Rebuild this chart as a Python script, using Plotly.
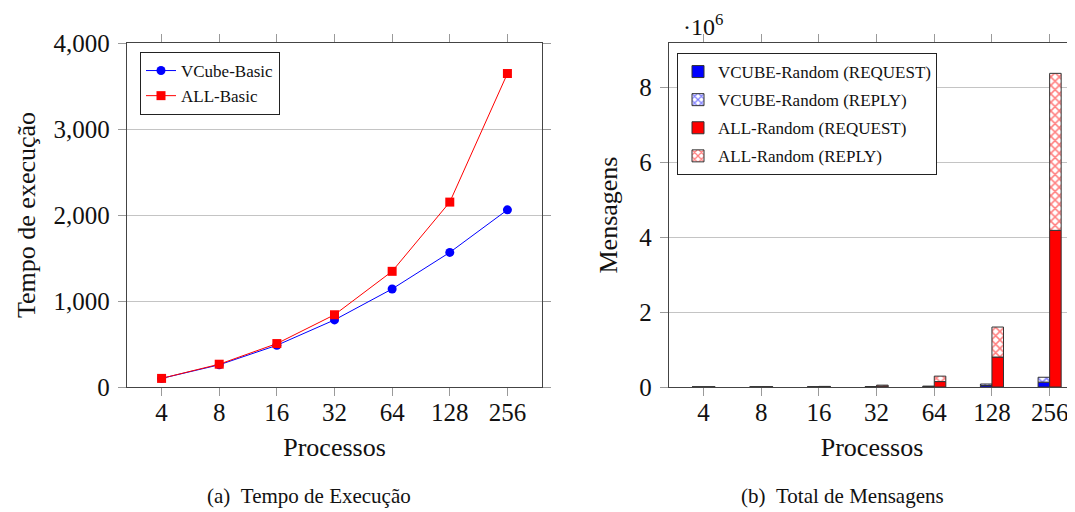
import plotly.graph_objects as go

# ---------------- data ----------------
procs = ["4", "8", "16", "32", "64", "128", "256"]

# (a) execution time
vcube_basic = [100, 258, 485, 780, 1140, 1565, 2060]
all_basic = [100, 265, 505, 840, 1345, 2150, 3645]

# (b) total messages
vcube_req = [300, 800, 2000, 5000, 12000, 40000, 130000]
vcube_rep = [300, 800, 2000, 5000, 12000, 40000, 130000]
all_req = [600, 2500, 8000, 25000, 145000, 800000, 4180000]
all_rep = [600, 2500, 8000, 25000, 145000, 800000, 4190000]

y2_ticks = [0, 2e6, 4e6, 6e6, 8e6]
y2_labels = ["0", "2", "4", "6", "8"]

# page body has an 8px default margin; size the figure to fill the rest
OFF = 8
W, H = 1075 - OFF, 512 - OFF
FONT = "Liberation Serif"
TXT = "#111111"
FRAME = "#444444"
GRID = "#c4c4c4"
TICKC = "#9a9a9a"


def px(x):
    """window pixel x -> paper fraction"""
    return (x - OFF) / W


def py(y):
    """window pixel y -> paper fraction"""
    return (H - (y - OFF)) / H


fig = go.Figure()

# ---- left: line chart ----
fig.add_trace(go.Scatter(
    x=procs, y=vcube_basic, name="VCube-Basic", mode="lines+markers",
    line=dict(color="#0000ff", width=1),
    marker=dict(symbol="circle", size=9, color="#0000ff"),
    xaxis="x", yaxis="y", legend="legend"))
fig.add_trace(go.Scatter(
    x=procs, y=all_basic, name="ALL-Basic", mode="lines+markers",
    line=dict(color="#ff0000", width=1),
    marker=dict(symbol="square", size=9, color="#ff0000"),
    xaxis="x", yaxis="y", legend="legend"))

# ---- right: stacked + grouped bars ----
edge = dict(color="#333333", width=1)
pat_kw = dict(shape="x", bgcolor="#ffffff", size=6, solidity=0.45)
fig.add_trace(go.Bar(
    x=procs, y=vcube_req, name="VCUBE-Random (REQUEST)",
    width=0.2, offset=-0.2, legendgroup="g1",
    marker=dict(color="#0000ff", line=edge),
    xaxis="x2", yaxis="y2", legend="legend2"))
fig.add_trace(go.Bar(
    x=procs, y=vcube_rep, base=vcube_req, name="VCUBE-Random (REPLY)",
    width=0.2, offset=-0.2, legendgroup="g2",
    marker=dict(color="#ffffff", line=edge,
                pattern=dict(pat_kw, fgcolor="#0000ff")),
    xaxis="x2", yaxis="y2", legend="legend2"))
fig.add_trace(go.Bar(
    x=procs, y=all_req, name="ALL-Random (REQUEST)",
    width=0.2, offset=0.0, legendgroup="g3",
    marker=dict(color="#ff0000", line=edge),
    xaxis="x2", yaxis="y2", legend="legend2"))
fig.add_trace(go.Bar(
    x=procs, y=all_rep, base=all_req, name="ALL-Random (REPLY)",
    width=0.2, offset=0.0, legendgroup="g4",
    marker=dict(color="#ffffff", line=edge,
                pattern=dict(pat_kw, fgcolor="#ff0000")),
    xaxis="x2", yaxis="y2", legend="legend2"))

tickfont = dict(family=FONT, size=25, color=TXT)
titlefont = dict(family=FONT, size=26, color=TXT)

common_x = dict(type="category", showgrid=False, showline=True, linecolor=FRAME,
                linewidth=1.3, mirror="ticks", ticks="outside", ticklen=8,
                tickcolor=TICKC, tickwidth=1, tickfont=tickfont,
                zeroline=False, automargin=False, ticklabelstandoff=-5)
common_y = dict(showgrid=True, gridcolor=GRID, gridwidth=1, showline=True,
                linecolor=FRAME, linewidth=1.3, ticks="outside", ticklen=8,
                tickcolor=TICKC, tickwidth=1, tickfont=tickfont, zeroline=False,
                automargin=False, ticklabelstandoff=3)

fig.update_layout(
    width=W, height=H,
    margin=dict(l=0, r=0, t=0, b=0, autoexpand=False),
    paper_bgcolor="white", plot_bgcolor="white",
    barmode="overlay",
    showlegend=True,
    font=dict(family=FONT, color=TXT),
    xaxis=dict(common_x, domain=[px(127), px(542)], anchor="y",
               range=[-0.6, 6.6],
               title=dict(text="Processos", font=titlefont, standoff=12)),
    yaxis=dict(common_y, domain=[py(387), py(43)], anchor="x",
               range=[0, 4000], tickvals=[0, 1000, 2000, 3000, 4000],
               tickformat=",d", mirror="ticks",
               title=dict(text="Tempo de execução", font=titlefont, standoff=10)),
    xaxis2=dict(common_x, domain=[px(669), 1.0], anchor="y2",
                range=[-0.6, 6.44],
                title=dict(text="Processos", font=titlefont, standoff=12)),
    yaxis2=dict(common_y, domain=[py(387), py(43)], anchor="x2",
                range=[0, 9.18e6], tickvals=y2_ticks, ticktext=y2_labels,
                mirror=False,
                title=dict(text="Mensagens", font=titlefont, standoff=14)),
    legend=dict(x=px(140), y=py(52), xanchor="left", yanchor="top",
                bordercolor="#222222", borderwidth=1, bgcolor="white",
                font=dict(family=FONT, size=17, color=TXT),
                itemwidth=30, tracegroupgap=0),
    legend2=dict(x=px(677), y=py(53), xanchor="left", yanchor="top",
                 bordercolor="#222222", borderwidth=1, bgcolor="white",
                 font=dict(family=FONT, size=17, color=TXT),
                 itemwidth=30, tracegroupgap=3),
    annotations=[
        dict(text="·10<sup>6</sup>", x=px(681), y=py(8), xref="paper", yref="paper",
             xanchor="left", yanchor="top", showarrow=False,
             font=dict(family=FONT, size=24, color=TXT)),
        dict(text="(a)\u00a0\u00a0Tempo de Execução", x=px(309), y=py(496),
             xref="paper", yref="paper", xanchor="center", yanchor="middle",
             showarrow=False, font=dict(family=FONT, size=21, color=TXT)),
        dict(text="(b)\u00a0\u00a0Total de Mensagens", x=px(842), y=py(496),
             xref="paper", yref="paper", xanchor="center", yanchor="middle",
             showarrow=False, font=dict(family=FONT, size=21, color=TXT)),
    ],
)

fig.write_html("out.html")
